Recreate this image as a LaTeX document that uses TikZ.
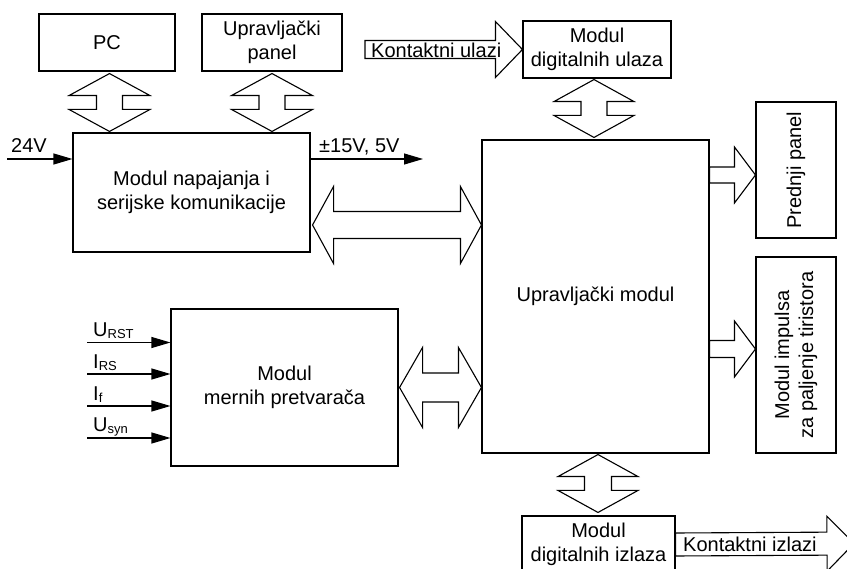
\documentclass[tikz,border=0pt]{standalone}
\usepackage{fontspec}
\setmainfont{Liberation Sans}
\usetikzlibrary{calc,arrows.meta}

\newcommand\blockfont{\fontsize{20}{24}\selectfont}
\newcommand\subtxt[1]{\raisebox{-1.5pt}{\fontsize{13}{13}\selectfont #1}}

% Two-headed block arrow between tips #1 and #2:
% head half-width #3, shaft half-width #4, head length #5
\newcommand\dblarrow[5]{%
  \coordinate (da-p) at ($(#1)!#5!(#2)$);
  \coordinate (da-q) at ($(#2)!#5!(#1)$);
  \draw[blockarrow] (#1) -- ($(da-p)!#3!90:(#2)$) -- ($(da-p)!#4!90:(#2)$)
    -- ($(da-q)!#4!-90:(#1)$) -- ($(da-q)!#3!-90:(#1)$) -- (#2)
    -- ($(da-q)!#3!90:(#1)$) -- ($(da-q)!#4!90:(#1)$)
    -- ($(da-p)!#4!-90:(#2)$) -- ($(da-p)!#3!-90:(#2)$) -- cycle;}

% One-headed block arrow from tail #1 to tip #2
\newcommand\sglarrow[5]{%
  \coordinate (sa-q) at ($(#2)!#5!(#1)$);
  \draw[blockarrow] ($(#1)!#4!90:(#2)$) -- ($(sa-q)!#4!-90:(#1)$)
    -- ($(sa-q)!#3!-90:(#1)$) -- (#2) -- ($(sa-q)!#3!90:(#1)$)
    -- ($(sa-q)!#4!90:(#1)$) -- ($(#1)!#4!-90:(#2)$) -- cycle;}

\tikzset{
  box/.style={draw, line width=1.1pt, inner sep=0pt, align=center, font=\blockfont},
  lbl/.style={inner sep=0pt, font=\blockfont},
  blockarrow/.style={draw, line width=1.1pt, line join=miter, fill=white},
  wire/.style={line width=1.1pt, -{Triangle[length=19pt,width=11pt]}},
}

\begin{document}
\begin{tikzpicture}[x=1pt,y=-1pt]
\useasboundingbox (0,0) rectangle (847,569);
\fill[white] (0,0) rectangle (847,569);

% modules
\node[box, minimum width=136pt, minimum height=57pt] (pc) at (107,42.5) {PC};
\node[box, minimum width=140pt, minimum height=57pt] (upp) at (272,42.5) {Upravljački\\panel};
\node[box, minimum width=237pt, minimum height=119pt] (mnap) at (191.5,192.5) {Modul napajanja i\\serijske komunikacije};
\node[box, minimum width=148pt, minimum height=57pt] (mdu) at (597,49.5) {Modul\\digitalnih ulaza};
\node[box, minimum width=227pt, minimum height=313pt] (um) at (595.5,296.5) {Upravljački modul};
\node[box, rotate=90, minimum width=136pt, minimum height=80pt] (pp) at (796,170) {Prednji panel};
\node[box, rotate=90, minimum width=196pt, minimum height=80pt] (mi) at (796,355) {Modul impulsa\\za paljenje tiristora};
\node[box, minimum width=227pt, minimum height=157pt] (mmp) at (284.5,387.5) {Modul\\mernih pretvarača};
\node[box, minimum width=153pt, minimum height=57pt] (mdi) at (598.5,544.5) {Modul\\digitalnih izlaza};

% vertical bus arrows
\coordinate (t1) at ([xshift=2.5pt,yshift=-2pt]pc.south);
\coordinate (b1) at ([yshift=1pt]t1 |- mnap.north);
\dblarrow{t1}{b1}{40.5pt}{13pt}{22pt}

\coordinate (t2) at ([yshift=-2pt]upp.south);
\coordinate (b2) at ([yshift=1pt]t2 |- mnap.north);
\dblarrow{t2}{b2}{40.5pt}{13pt}{22pt}

\coordinate (t3) at ([xshift=-3pt,yshift=-1pt]mdu.south);
\coordinate (b3) at ([yshift=2pt]t3 |- um.north);
\dblarrow{t3}{b3}{40pt}{13pt}{22pt}

\coordinate (t4) at ([xshift=2.5pt,yshift=-1pt]um.south);
\coordinate (b4) at ([yshift=3pt]t4 |- mdi.north);
\dblarrow{t4}{b4}{40pt}{13.5pt}{22pt}

% horizontal bus arrows
\coordinate (l5) at ([xshift=2pt,yshift=-32.5pt]mnap.east);
\coordinate (r5) at (l5 -| um.west);
\dblarrow{l5}{r5}{38.5pt}{13.5pt}{21pt}

\coordinate (l6) at ([xshift=1pt]mmp.east);
\coordinate (r6) at (l6 -| um.west);
\dblarrow{l6}{r6}{40pt}{14.5pt}{23pt}

% outputs to the panels
\coordinate (p7) at ([yshift=-5pt]pp.north);
\coordinate (s7) at (p7 -| um.east);
\sglarrow{s7}{p7}{28pt}{8pt}{21pt}

\coordinate (p8) at ([yshift=6pt]mi.north);
\coordinate (s8) at (p8 -| um.east);
\sglarrow{s8}{p8}{28pt}{8.5pt}{21pt}

% contact inputs and outputs
\coordinate (kin) at (365,49.5);
\sglarrow{kin}{mdu.west}{28pt}{9pt}{27pt}
\node[lbl, anchor=base west] (kinl) at (371,58) {Kontaktni ulazi};

\coordinate (kout) at (854,543.5);
\sglarrow{mdi.east}{kout}{27.5pt}{11.5pt}{27pt}
\node[lbl, anchor=base west] (koutl) at (683,551) {Kontaktni izlazi};

% supply lines
\coordinate (v24) at (7,159);
\draw[wire] (v24) -- (v24 -| mnap.west);
\node[lbl, anchor=base west] (v24l) at (11,153) {24V};

\coordinate (vout) at (423,159);
\draw[wire] (vout -| mnap.east) -- (vout);
\node[lbl, anchor=base west] (voutl) at (319,153) {±15V, 5V};

% measured quantities
\coordinate (in1) at (87,342.5);
\coordinate (in2) at (87,374);
\coordinate (in3) at (87,406);
\coordinate (in4) at (87,438);
\draw[wire] (in1) -- (in1 -| mmp.west);
\draw[wire] (in2) -- (in2 -| mmp.west);
\draw[wire] (in3) -- (in3 -| mmp.west);
\draw[wire] (in4) -- (in4 -| mmp.west);
\node[lbl, anchor=base west] (in1l) at (93,337) {U\subtxt{RST}};
\node[lbl, anchor=base west] (in2l) at (93,369) {I\subtxt{RS}};
\node[lbl, anchor=base west] (in3l) at (93,401) {I\subtxt{f}};
\node[lbl, anchor=base west] (in4l) at (93,432) {U\subtxt{syn}};
\end{tikzpicture}
\end{document}
